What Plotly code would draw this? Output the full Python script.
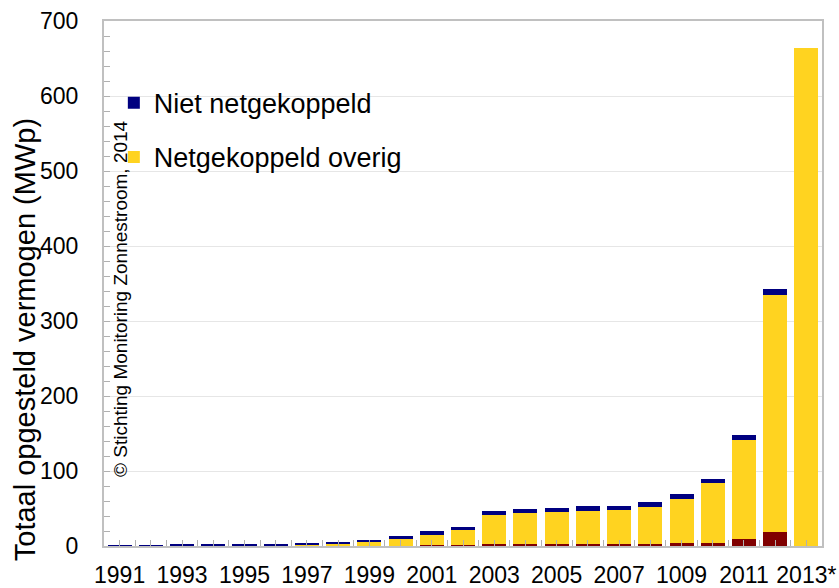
import plotly.graph_objects as go

years = list(range(1991, 2014))
tick_labels = ["1991", "", "1993", "", "1995", "", "1997", "", "1999", "", "2001", "",
               "2003", "", "2005", "", "2007", "", "1009", "", "2011", "", "2013*"]

netgekoppeld_rood = [0, 0, 0, 0, 0, 0, 0, 0, 0, 0, 1.8, 2.0, 2.2, 2.2, 2.3, 3.1, 3.1, 3.1,
                     4.0, 4.4, 9.8, 19.1, 0]
netgekoppeld_overig = [0, 0, 0, 0, 0, 0.3, 2.2, 3.1, 5.8, 9.3, 13.4, 19.8, 39.1, 42.2, 43.6,
                       44.0, 45.3, 48.5, 59.1, 79.2, 131.5, 316.0, 664.2]
niet_netgekoppeld = [1.2, 1.3, 1.4, 1.5, 1.7, 2.5, 1.7, 2.7, 2.7, 3.6, 4.9, 3.6, 4.9, 4.9, 5.3,
                     5.8, 5.3, 6.7, 6.2, 5.8, 6.7, 7.6, 0]

FONT = "Liberation Sans, Arial, sans-serif"
edge = dict(width=0)

fig = go.Figure()
fig.add_trace(go.Bar(x=years, y=netgekoppeld_rood, name="Netgekoppeld",
                     marker=dict(color="#800000", line=edge), showlegend=False))
fig.add_trace(go.Bar(x=years, y=netgekoppeld_overig, name="Netgekoppeld overig",
                     marker=dict(color="#FFD320", line=edge), legendgroup="b", legendrank=2))
fig.add_trace(go.Bar(x=years, y=niet_netgekoppeld, name="Niet netgekoppeld",
                     marker=dict(color="#000080", line=edge), legendgroup="a", legendrank=1))

fig.update_layout(
    width=839, height=588,
    barmode="stack", bargap=0.23,
    plot_bgcolor="white", paper_bgcolor="white",
    margin=dict(l=104, r=17, t=21, b=42, autoexpand=False),
    font=dict(family=FONT, size=23, color="black"),
    legend=dict(x=0.0137, y=0.89, xanchor="left", yanchor="top",
                traceorder="grouped", tracegroupgap=16,
                font=dict(size=27), bgcolor="rgba(0,0,0,0)"),
    xaxis=dict(range=[1990.5, 2013.5], tickmode="array", tickvals=years, ticktext=tick_labels,
               ticks="inside", ticklen=6, tickcolor="#b0b0b0", tickwidth=1, automargin=False,
               showgrid=False, showline=True, linecolor="#c0c0c0", linewidth=2, mirror=True,
               ticklabelstandoff=7, tickfont=dict(size=23), ticklabeloverflow="allow",
               minor=dict(tick0=1990.5, dtick=1, ticks="inside", ticklen=6,
                          tickcolor="#b0b0b0", showgrid=False)),
    yaxis=dict(range=[0, 700], dtick=100, ticks="inside", ticklen=6, tickcolor="#b0b0b0",
               showgrid=True, gridcolor="#e6e6e6", gridwidth=1, automargin=False,
               showline=True, linecolor="#c0c0c0", linewidth=2, mirror=True,
               zeroline=False, ticklabelstandoff=19, tickfont=dict(size=23),
               ticklabeloverflow="allow",
               minor=dict(dtick=20, ticks="inside", ticklen=6, tickcolor="#b0b0b0",
                          showgrid=False)),
    annotations=[
        dict(text="Totaal opgesteld vermogen (MWp)", xref="paper", yref="paper",
             x=-0.11, y=0.392, xanchor="center", yanchor="middle", textangle=-90,
             showarrow=False, font=dict(size=29, family=FONT)),
        dict(text="© Stichting Monitoring Zonnestroom, 2014", xref="paper", yref="paper",
             x=0.022, y=0.472, xanchor="center", yanchor="middle", textangle=-90,
             showarrow=False, font=dict(size=19, family=FONT)),
    ],
)

fig.write_html(
    "out.html",
    config={"displayModeBar": False},
    post_script="document.body.style.margin='0';document.body.style.overflow='hidden';",
)
